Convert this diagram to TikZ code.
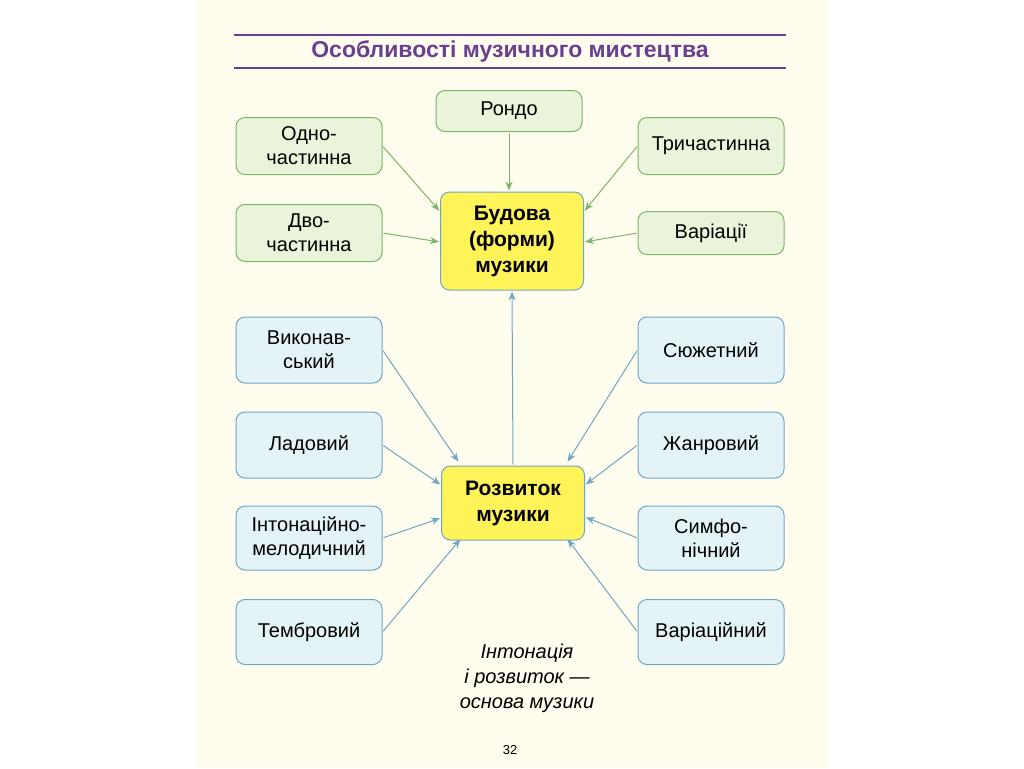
\documentclass[tikz,border=0pt]{standalone}
\usepackage{fontspec}
\setmainfont{Liberation Sans}
\usetikzlibrary{arrows.meta,calc}
\definecolor{cream}{HTML}{FFFDEE}
\definecolor{gfill}{HTML}{E9F4DA}
\definecolor{gline}{HTML}{7DB46A}
\definecolor{bfill}{HTML}{E4F4F6}
\definecolor{bline}{HTML}{6FA6C6}
\definecolor{yfill}{HTML}{FFF35A}
\definecolor{purp}{HTML}{6A3E90}
\begin{document}
\begin{tikzpicture}[x=1pt,y=-1pt,
 box/.style={rounded corners=9pt,minimum width=146pt,align=center,font=\fontsize{20}{24}\selectfont,line width=1pt},
 gbox/.style={box,draw=gline,fill=gfill},
 bbox/.style={box,draw=bline,fill=bfill},
 ybox/.style={box,draw=bline,fill=yfill,font=\fontsize{21}{26}\selectfont\bfseries,minimum width=143pt},
 garr/.style={draw=gline,line width=1pt,-{Stealth[length=9pt,width=7pt]},shorten >=1pt,shorten <=1pt},
 barr/.style={draw=bline,line width=1pt,-{Stealth[length=9pt,width=7pt]},shorten >=1pt,shorten <=1pt}]
\useasboundingbox (0,0) rectangle (1024,768);
\fill[white] (0,0) rectangle (1024,768);
\fill[cream] (198,0) rectangle (828,768);
\draw[purp,line width=2pt] (234,35) -- (786,35);
\draw[purp,line width=2pt] (234,68) -- (786,68);
\node[text=purp,font=\fontsize{23}{27}\selectfont\bfseries] (title) at (510,51) {Особливості музичного мистецтва};
\node[ybox,minimum height=98pt] (bud) at (512,241) {Будова\\(форми)\\музики};
\node[ybox,minimum height=74pt] (roz) at (513,503) {Розвиток\\музики};
\node[gbox,minimum height=41pt] (rondo) at (509,111) {Рондо};
\node[gbox,minimum height=57pt] (odno) at (309,146) {Одно-\\частинна};
\node[gbox,minimum height=57pt] (dvo) at (309,233) {Дво-\\частинна};
\node[gbox,minimum height=57pt] (tri) at (711,146) {Тричастинна};
\node[gbox,minimum height=43pt] (var) at (711,233) {Варіації};
\node[bbox,minimum height=66pt] (vyk) at (309,350) {Виконав-\\ський};
\node[bbox,minimum height=66pt] (lad) at (309,445) {Ладовий};
\node[bbox,minimum height=64pt] (int) at (309,538) {Інтонаційно-\\мелодичний};
\node[bbox,minimum height=65pt] (temb) at (309,632) {Тембровий};
\node[bbox,minimum height=66pt] (sju) at (711,350) {Сюжетний};
\node[bbox,minimum height=66pt] (zhan) at (711,445) {Жанровий};
\node[bbox,minimum height=64pt] (sym) at (711,538) {Симфо-\\нічний};
\node[bbox,minimum height=65pt] (vari) at (711,632) {Варіаційний};
\node[font=\fontsize{20}{25}\selectfont\itshape,align=center] (motto) at (527,678) {Інтонація\\і розвиток —\\основа музики};
\node[font=\fontsize{13}{15}\selectfont] (page) at (510,750) {32};
\draw[garr] (rondo.south) -- (rondo.south |- bud.north);
\draw[garr] (odno.east) -- ($(bud.north west)+(0,20)$);
\draw[garr] (dvo.east) -- ($(bud.west)+(0,1)$);
\draw[garr] (tri.west) -- ($(bud.north east)+(0,20)$);
\draw[garr] (var.west) -- ($(bud.east)+(0,1)$);
\draw[barr] (roz.north) -- (bud.south);
\draw[barr] (vyk.east) -- ($(roz.north west)+(18,-3)$);
\draw[barr] (lad.east) -- ($(roz.west)+(0,-18)$);
\draw[barr] (int.east) -- ($(roz.west)+(0,15)$);
\draw[barr] (temb.east) -- ($(roz.south west)+(20,-2)$);
\draw[barr] (sju.west) -- ($(roz.north east)+(-18,-3)$);
\draw[barr] (zhan.west) -- ($(roz.east)+(0,-18)$);
\draw[barr] (sym.west) -- ($(roz.east)+(0,14)$);
\draw[barr] (vari.west) -- ($(roz.south east)+(-18,-2)$);
\end{tikzpicture}
\end{document}
